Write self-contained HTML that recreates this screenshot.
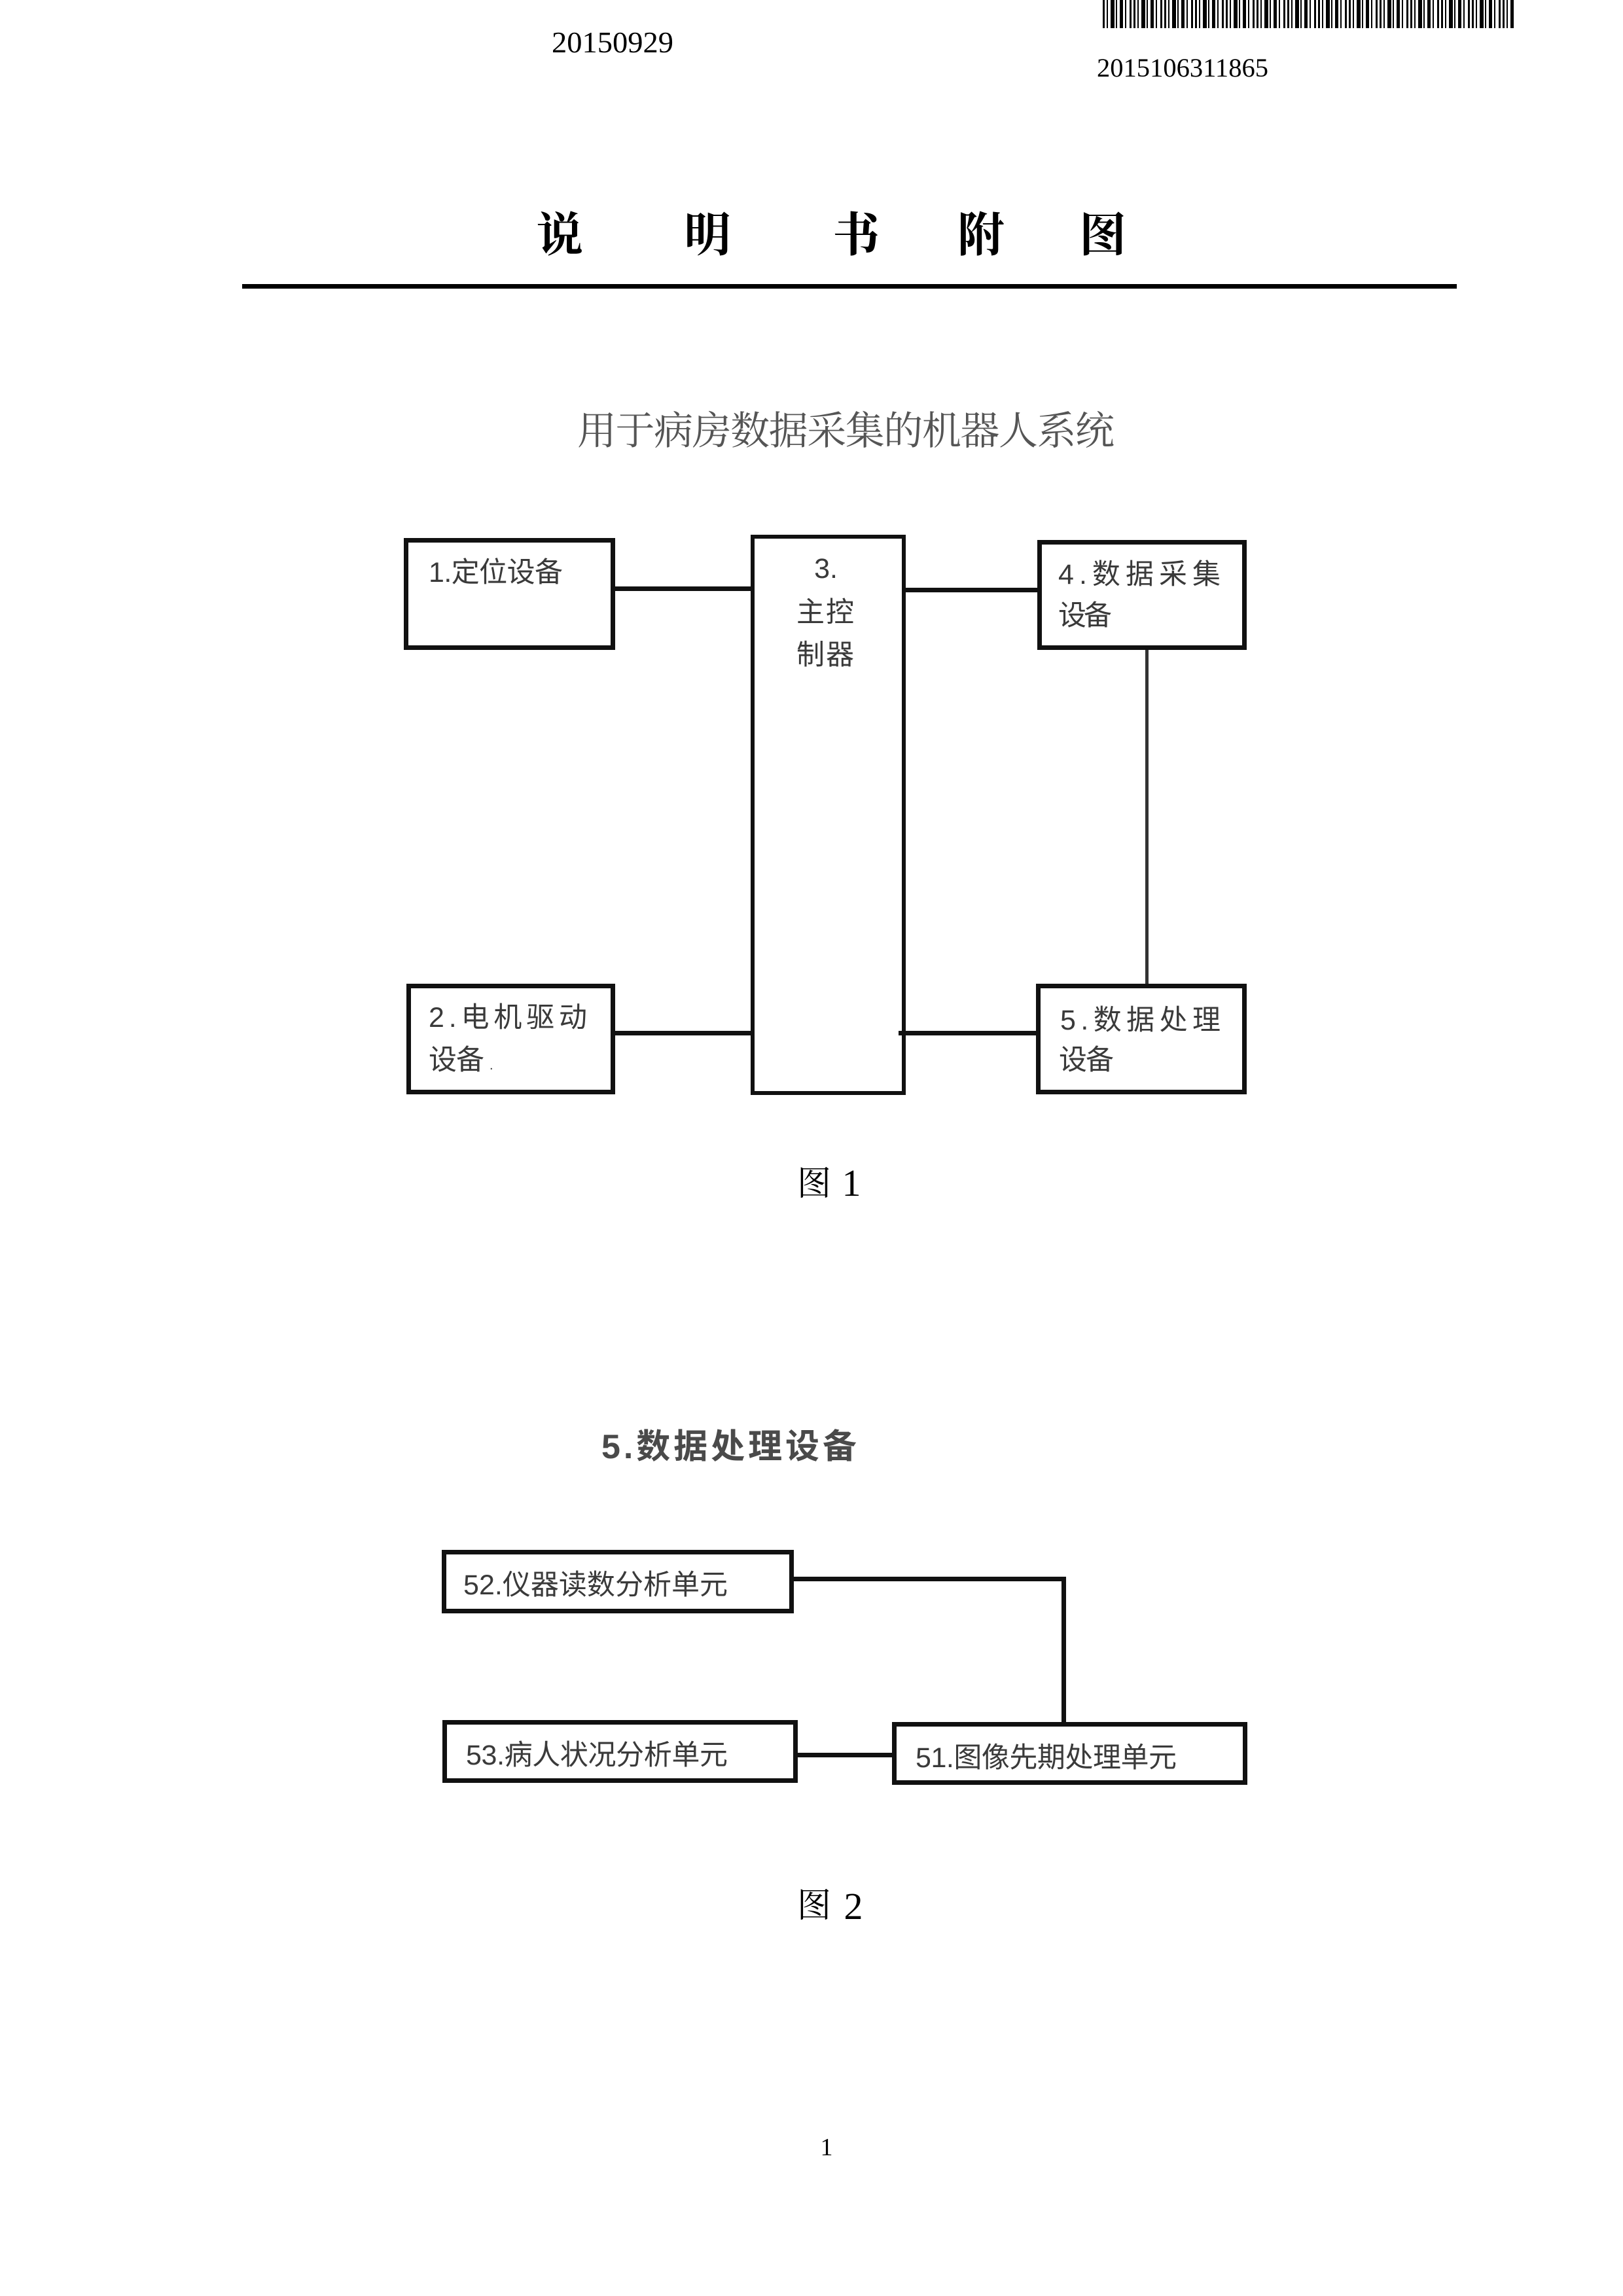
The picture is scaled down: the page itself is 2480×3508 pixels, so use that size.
<!DOCTYPE html>
<html>
<head>
<meta charset="utf-8">
<style>
html,body{margin:0;padding:0;background:#fff;}
svg{display:block;}
.ser{font-family:"Liberation Serif","Noto Serif CJK SC",serif;}
.sans{font-family:"Liberation Sans","Noto Sans CJK SC",sans-serif;}
.cjkser{font-family:"Noto Serif CJK SC","Liberation Serif",serif;}
</style>
</head>
<body>
<svg width="2480" height="3508" viewBox="0 0 2480 3508" xmlns="http://www.w3.org/2000/svg">
  <defs>
    <pattern id="bc" x="1685" y="0" width="47" height="43" patternUnits="userSpaceOnUse">
      <rect x="0" y="0" width="3" height="43" fill="#000"/>
      <rect x="6" y="0" width="2" height="43" fill="#000"/>
      <rect x="12" y="0" width="6" height="43" fill="#000"/>
      <rect x="20" y="0" width="2" height="43" fill="#000"/>
      <rect x="26" y="0" width="5" height="43" fill="#000"/>
      <rect x="34" y="0" width="2" height="43" fill="#000"/>
      <rect x="41" y="0" width="3" height="43" fill="#000"/>
    </pattern>
  </defs>
  <rect x="0" y="0" width="2480" height="3508" fill="#fff"/>

  <!-- barcode -->
  <rect x="1685" y="0" width="628" height="43" fill="url(#bc)"/>
  <rect x="1685" y="0" width="3" height="43" fill="#000"/>
  <rect x="2309" y="0" width="4" height="43" fill="#000"/>

  <!-- header numbers -->
  <text class="ser" x="843" y="80" font-size="46" fill="#000" textLength="186" lengthAdjust="spacingAndGlyphs">20150929</text>
  <text class="ser" x="1676" y="117" font-size="40" fill="#000" textLength="262" lengthAdjust="spacingAndGlyphs">2015106311865</text>

  <!-- title -->
  <g class="cjkser" font-size="72" font-weight="bold" fill="#000" text-anchor="middle">
    <text x="855" y="384">说</text>
    <text x="1081" y="384">明</text>
    <text x="1308" y="384">书</text>
    <text x="1499" y="384">附</text>
    <text x="1685" y="384">图</text>
  </g>
  <rect x="370" y="434" width="1856" height="7" fill="#000"/>

  <!-- figure 1 subtitle -->
  <text class="cjkser" x="882" y="679" font-size="60" fill="#555" textLength="821" lengthAdjust="spacing">用于病房数据采集的机器人系统</text>

  <!-- figure 1 boxes -->
  <g fill="none" stroke="#111">
    <rect x="620.5" y="825.5" width="316" height="164" stroke-width="7"/>
    <rect x="1150" y="820" width="231" height="850" stroke-width="6"/>
    <rect x="1588.5" y="828.5" width="313" height="161" stroke-width="7"/>
    <rect x="624.5" y="1506.5" width="312" height="162" stroke-width="7"/>
    <rect x="1586.5" y="1506.5" width="315" height="162" stroke-width="7"/>
  </g>
  <!-- figure 1 connectors -->
  <rect x="940" y="896" width="207" height="7" fill="#111"/>
  <rect x="1384" y="898" width="201" height="7" fill="#111"/>
  <rect x="940" y="1575" width="207" height="7" fill="#111"/>
  <rect x="1373" y="1575" width="212" height="7" fill="#111"/>
  <rect x="1750" y="993" width="5" height="510" fill="#333"/>

  <!-- figure 1 labels -->
  <g class="sans" font-size="43" fill="#3a3a3a">
    <text x="655" y="889" textLength="205" lengthAdjust="spacing">1.定位设备</text>

    <text x="1262" y="883" text-anchor="middle">3.</text>
    <text x="1261" y="950" text-anchor="middle" textLength="88" lengthAdjust="spacing">主控</text>
    <text x="1261" y="1015" text-anchor="middle" textLength="88" lengthAdjust="spacing">制器</text>

    <text x="1617" y="892" textLength="248" lengthAdjust="spacing">4.数据采集</text>
    <text x="1617" y="955" textLength="82" lengthAdjust="spacing">设备</text>

    <text x="655" y="1569" textLength="242" lengthAdjust="spacing">2.电机驱动</text>
    <text x="655" y="1634" textLength="85" lengthAdjust="spacing">设备</text>
    <text x="748" y="1634" font-size="20">.</text>

    <text x="1620" y="1573" textLength="245" lengthAdjust="spacing">5.数据处理</text>
    <text x="1618" y="1634" textLength="84" lengthAdjust="spacing">设备</text>
  </g>

  <!-- 图 1 -->
  <text class="cjkser" x="1244" y="1826" font-size="52" fill="#000" text-anchor="middle">图</text>
  <text class="ser" x="1301" y="1827" font-size="58" fill="#000" text-anchor="middle">1</text>

  <!-- figure 2 heading -->
  <text class="sans" x="919" y="2228" font-size="52" font-weight="bold" fill="#4a4a4a" textLength="390" lengthAdjust="spacing">5.数据处理设备</text>

  <!-- figure 2 boxes -->
  <g fill="none" stroke="#111" stroke-width="7">
    <rect x="678.5" y="2371.5" width="531" height="90"/>
    <rect x="679.5" y="2631.5" width="536" height="89"/>
    <rect x="1366.5" y="2634.5" width="536" height="89"/>
  </g>
  <!-- figure 2 connectors -->
  <rect x="1213" y="2409" width="416" height="7" fill="#111"/>
  <rect x="1622" y="2409" width="7" height="223" fill="#111"/>
  <rect x="1219" y="2678" width="144" height="7" fill="#111"/>

  <!-- figure 2 labels -->
  <g class="sans" font-size="43" fill="#3a3a3a">
    <text x="708" y="2436" textLength="404" lengthAdjust="spacing">52.仪器读数分析单元</text>
    <text x="712" y="2696" textLength="400" lengthAdjust="spacing">53.病人状况分析单元</text>
    <text x="1399" y="2700" textLength="399" lengthAdjust="spacing">51.图像先期处理单元</text>
  </g>

  <!-- 图 2 -->
  <text class="cjkser" x="1244" y="2929" font-size="52" fill="#000" text-anchor="middle">图</text>
  <text class="ser" x="1304" y="2932" font-size="58" fill="#000" text-anchor="middle">2</text>

  <!-- page number -->
  <text class="ser" x="1263" y="3293" font-size="38" fill="#000" text-anchor="middle">1</text>
</svg>
</body>
</html>
